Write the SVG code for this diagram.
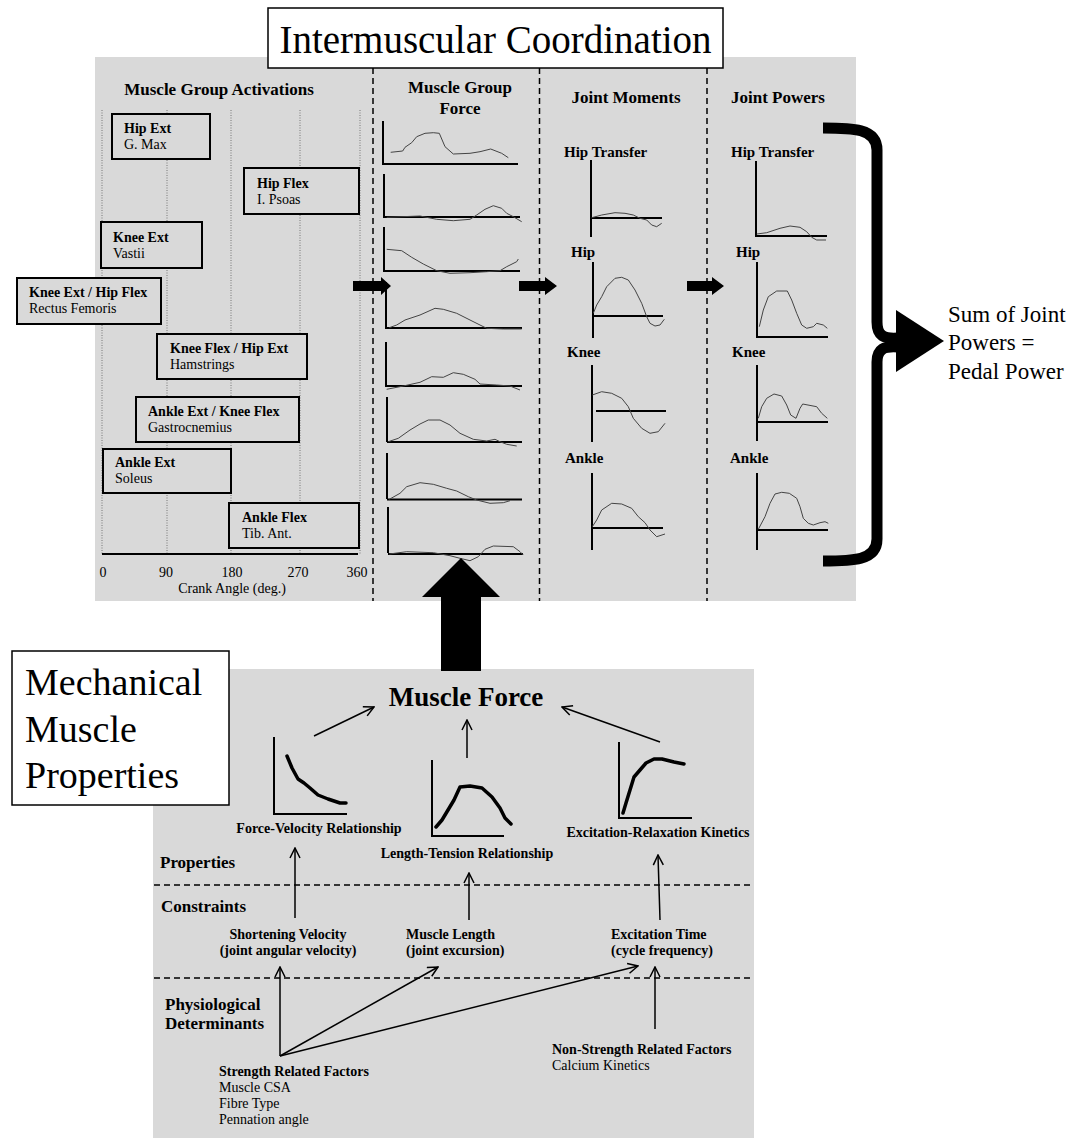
<svg xmlns="http://www.w3.org/2000/svg" width="1075" height="1140" viewBox="0 0 1075 1140">
<defs>
<style>
text{font-family:"Liberation Serif","Times New Roman",serif;fill:#000}
.b{font-weight:bold}
.h{font-size:17px;font-weight:bold}
.bx{font-size:14px}
.lab{font-size:15px;font-weight:bold}
.sm{font-size:14px}
.panel{fill:#d9d9d9}
.abox{fill:#d9d9d9;stroke:#000;stroke-width:2}
.grid{stroke:#777;stroke-width:1;stroke-dasharray:1 1.5;fill:none}
.sep{stroke:#000;stroke-width:1.5;stroke-dasharray:6 4;fill:none}
.ax{stroke:#000;stroke-width:2;fill:none}
.cv{stroke:#444;stroke-width:1;fill:none}
.tk{stroke:#000;stroke-width:3.5;fill:none;stroke-linejoin:round;stroke-linecap:round}
.ar{stroke:#000;stroke-width:1.5;fill:none;marker-end:url(#v)}
.big{fill:#000}
</style>
<marker id="v" viewBox="0 0 12 12" refX="11" refY="6" markerWidth="12" markerHeight="12" markerUnits="userSpaceOnUse" orient="auto">
<path d="M1,1 L11,6 L1,11" fill="none" stroke="#000" stroke-width="1.5"/>
</marker>
</defs>

<!-- panels -->
<rect class="panel" x="95" y="57" width="761" height="544"/>
<rect class="panel" x="153" y="669" width="601" height="469"/>

<g id="title">
<rect x="268" y="8" width="455" height="60" fill="#fff" stroke="#000" stroke-width="1.5"/>
<text x="495.5" y="53" font-size="39" text-anchor="middle">Intermuscular Coordination</text>
</g>

<!-- column separators -->
<g id="separators">
<line class="sep" x1="373" y1="68" x2="373" y2="601"/>
<line class="sep" x1="539.5" y1="68" x2="539.5" y2="601"/>
<line class="sep" x1="707" y1="68" x2="707" y2="601"/>
</g>

<!-- column headers -->
<g id="headers">
<text class="h" x="219" y="95" text-anchor="middle">Muscle Group Activations</text>
<text class="h" x="460" y="93" text-anchor="middle">Muscle Group</text>
<text class="h" x="460" y="114" text-anchor="middle">Force</text>
<text class="h" x="626" y="103" text-anchor="middle">Joint Moments</text>
<text class="h" x="778" y="103" text-anchor="middle">Joint Powers</text>
</g>

<!-- activation chart -->
<g id="activation-axis">
<line class="grid" x1="102" y1="110" x2="102" y2="554"/>
<line class="grid" x1="167" y1="110" x2="167" y2="554"/>
<line class="grid" x1="231" y1="110" x2="231" y2="554"/>
<line class="grid" x1="300" y1="110" x2="300" y2="554"/>
<line class="grid" x1="360" y1="110" x2="360" y2="554"/>
<line class="ax" x1="102" y1="554" x2="358" y2="554"/>
<text class="sm" x="103" y="577" text-anchor="middle">0</text>
<text class="sm" x="166" y="577" text-anchor="middle">90</text>
<text class="sm" x="232" y="577" text-anchor="middle">180</text>
<text class="sm" x="298" y="577" text-anchor="middle">270</text>
<text class="sm" x="357" y="577" text-anchor="middle">360</text>
<text class="sm" x="232" y="593" text-anchor="middle">Crank Angle (deg.)</text>
</g>

<g id="act-hipext"><rect class="abox" x="112" y="114" width="98" height="45"/>
<text class="bx b" x="124" y="133">Hip Ext</text><text class="bx" x="124" y="149">G. Max</text></g>
<g id="act-hipflex"><rect class="abox" x="244" y="168" width="115" height="46"/>
<text class="bx b" x="257" y="188">Hip Flex</text><text class="bx" x="257" y="204">I. Psoas</text></g>
<g id="act-kneeext"><rect class="abox" x="101" y="222" width="101" height="46"/>
<text class="bx b" x="113" y="242">Knee  Ext</text><text class="bx" x="113" y="258">Vastii</text></g>
<g id="act-rf"><rect class="abox" x="17" y="278" width="144" height="46"/>
<text class="bx b" x="29" y="297">Knee  Ext / Hip Flex</text><text class="bx" x="29" y="313">Rectus Femoris</text></g>
<g id="act-ham"><rect class="abox" x="157" y="334" width="150" height="45"/>
<text class="bx b" x="170" y="353">Knee  Flex / Hip Ext</text><text class="bx" x="170" y="369">Hamstrings</text></g>
<g id="act-gas"><rect class="abox" x="136" y="397" width="163" height="45"/>
<text class="bx b" x="148" y="416">Ankle Ext / Knee Flex</text><text class="bx" x="148" y="432">Gastrocnemius</text></g>
<g id="act-sol"><rect class="abox" x="103" y="449" width="128" height="44"/>
<text class="bx b" x="115" y="467">Ankle Ext</text><text class="bx" x="115" y="483">Soleus</text></g>
<g id="act-ta"><rect class="abox" x="229" y="503" width="130" height="45"/>
<text class="bx b" x="242" y="522">Ankle Flex</text><text class="bx" x="242" y="538">Tib.  Ant.</text></g>

<!-- muscle group force charts -->
<g id="force-charts">
<path class="ax" d="M383,121 V165 M383,164 H518"/>
<polyline class="cv" points="390.7,152.3 402.7,151 405,147.3 411.7,142.7 416.7,136.7 425,133.3 433.3,132.7 439.3,133.3 445,146.7 453.3,154 470,153.3 480,151.7 490.7,149 501.7,153.3 508.3,157.7"/>
<path class="ax" d="M384,174 V218 M384,217 H520"/>
<polyline class="cv" points="386.7,217.3 420,216 436.7,219.3 453.3,220.7 470,219.3 476.7,215 485,209.3 493.3,205.7 501.7,208.3 506.7,213.3 513.3,216.7 521.7,221.7"/>
<path class="ax" d="M384,227 V272 M384,271 H520"/>
<polyline class="cv" points="386.7,249.3 401.7,250.7 411.7,257.3 423.3,264 436.7,270.7 450,273.3 470,272.7 486.7,271.7 500,270.7 506.7,266.7 516.7,261.7 518.3,259"/>
<path class="ax" d="M386,282 V329 M386,328 H522"/>
<polyline class="cv" points="389.3,327.7 396.7,325 405,320 420,315 435,308.3 443.3,309.3 456.7,313.3 470,320 480,325 486.7,328.3 503.3,329 521.7,329"/>
<path class="ax" d="M386,342 V387 M386,386 H522"/>
<polyline class="cv" points="386.7,389.3 403.3,386 420,382.3 431.7,376.7 443.3,377.3 453.3,372.7 463.3,374.3 475,379.3 480,384 496.7,385 510,386 520,390"/>
<path class="ax" d="M387,397 V442 M387,442 H522"/>
<polyline class="cv" points="388.3,441.7 398.3,438.3 410,430 420,424 428.3,420 440,420 450,425 460,433.3 473.3,439.3 486.7,441 495,439.3 500,441.7 506.7,444.3 516.7,446"/>
<path class="ax" d="M387,453 V499 M387,499.5 H522"/>
<polyline class="cv" points="389.3,499.3 400,493.3 406.7,486.7 420,482.7 433.3,484.3 446.7,488.3 456.7,491 468.3,496.7 476.7,500 490,503.3 503.3,502.7 510,500.7"/>
<path class="ax" d="M388,507 V553 M388,554 H523"/>
<polyline class="cv" points="389.3,554 406.7,551.7 433.3,552.7 450,555.7 460,558.3 470,560.7 478.3,556.7 485,549.3 493.3,546 513.3,546.7 520,551.7 523.3,555"/>
</g>

<!-- joint moments -->
<g id="moments-hiptransfer">
<text class="lab" x="564" y="157">Hip Transfer</text>
<path class="ax" d="M591,160 V237 M591,218 H662"/>
<polyline class="cv" points="591.7,217.7 601.7,215 615,212.7 625,213.3 633.3,215 640,218.3 646.7,220 651.7,225 656.7,226.7 661.7,223.3"/>
</g>
<g id="moments-hip">
<text class="lab" x="571" y="257">Hip</text>
<path class="ax" d="M593,262 V338 M593,316 H663"/>
<polyline class="cv" points="593.3,313.3 596.7,305 601.7,296.7 606.7,286.7 615,278.3 621.7,277.3 628.3,280 635,290 641.7,303.3 646.7,316.7 650,323.3 655,326 660,325 664.3,319.3"/>
</g>
<g id="moments-knee">
<text class="lab" x="567" y="357">Knee</text>
<path class="ax" d="M592,365 V442 M596,411 H666"/>
<polyline class="cv" points="592.3,395 601.7,391.7 611.7,393.3 621.7,398.3 628.3,406.7 633.3,418.3 641.7,428.3 650,433.3 658.3,431.7 665,423.3"/>
</g>
<g id="moments-ankle">
<text class="lab" x="565" y="463">Ankle</text>
<path class="ax" d="M592,473 V550 M592,528 H663"/>
<polyline class="cv" points="592.3,526.7 596.7,520 601.7,510 611.7,503.3 621.7,504 631.7,508.3 638.3,516.7 645,522.7 650,530 656.7,536.7 665,534"/>
</g>

<!-- joint powers -->
<g id="powers-hiptransfer">
<text class="lab" x="731" y="157">Hip Transfer</text>
<path class="ax" d="M756,161 V237 M756,236 H827"/>
<polyline class="cv" points="756.7,234 766.7,232.7 780,228.3 790,226 800,227.3 806.7,231.7 811.7,237.3 816.7,240 826,240"/>
</g>
<g id="powers-hip">
<text class="lab" x="736" y="257">Hip</text>
<path class="ax" d="M757,262 V338 M757,337 H828"/>
<polyline class="cv" points="759.3,326.7 763.3,310 768.3,296.7 776.7,291 787.3,291 791.7,300 796.7,313.3 801.7,325 806.7,328.3 813.3,326.7 816.7,323.3 823.3,325 827.3,328.3"/>
</g>
<g id="powers-knee">
<text class="lab" x="732" y="357">Knee</text>
<path class="ax" d="M757,365 V441 M757,422 H828"/>
<polyline class="cv" points="758.3,418.3 761.7,406.7 766.7,398.3 774,394 781.7,396 786.7,405 790.7,415 796,418.3 800,408.3 802.7,404 816.7,406.7 821.7,413.3 827.3,418.3"/>
</g>
<g id="powers-ankle">
<text class="lab" x="730" y="463">Ankle</text>
<path class="ax" d="M757,473 V550 M757,530 H828"/>
<polyline class="cv" points="758.3,529.3 765,516.7 770,503.3 775,494 781.7,492.3 789.3,493.3 796.7,498.3 800,506.7 803.3,518.3 808.3,523.3 813.3,525 820,522.7 825,521.7 828.3,523.3"/>
</g>

<g id="sum-label">
<text x="948" y="322" font-size="23">Sum of Joint</text>
<text x="948" y="350" font-size="23">Powers =</text>
<text x="948" y="379" font-size="23">Pedal Power</text>
</g>

<!-- mechanical muscle properties -->
<g id="mech-title">
<rect x="12" y="651" width="217" height="154" fill="#fff" stroke="#000" stroke-width="1.5"/>
<text x="25" y="695" font-size="38">Mechanical</text>
<text x="25" y="742" font-size="38">Muscle</text>
<text x="25" y="788" font-size="38">Properties</text>
</g>

<g id="muscle-force"><text x="466" y="706" font-size="27" class="b" text-anchor="middle">Muscle Force</text></g>

<g id="fv">
<path class="ax" d="M274,737 V814 H347" stroke-width="1.5"/>
<polyline class="tk" points="287,756 292,768 298,779 304,783 310,788 318,795 328,799 340,803 346,803"/>
<text class="sm b" x="319" y="833" text-anchor="middle">Force-Velocity Relationship</text>
</g>
<g id="lt">
<path class="ax" d="M432,760 V836 H504" stroke-width="1.5"/>
<polyline class="tk" points="436,827 442,820 448,810 454,800 460,787 470,786 482,788 492,797 500,808 505,818 511,824"/>
<text class="sm b" x="467" y="858" text-anchor="middle">Length-Tension Relationship</text>
</g>
<g id="erk">
<path class="ax" d="M619,742 V818 H692" stroke-width="1.5"/>
<polyline class="tk" points="623,813 626,803 630,790 634,777 640,770 646,763 654,759 662,759 674,762 684,764"/>
<text class="sm b" x="658" y="837" text-anchor="middle">Excitation-Relaxation Kinetics</text>
</g>

<g id="levels">
<text x="160" y="868" font-size="17" class="b">Properties</text>
<line class="sep" x1="154" y1="885" x2="754" y2="885"/>
<text x="161" y="912" font-size="17" class="b">Constraints</text>
<line class="sep" x1="154" y1="978" x2="754" y2="978"/>
<text x="165" y="1010" font-size="17" class="b">Physiological</text>
<text x="165" y="1029" font-size="17" class="b">Determinants</text>
</g>

<g id="sv"><text class="sm b" x="288" y="939" text-anchor="middle">Shortening Velocity</text>
<text class="sm b" x="288" y="955" text-anchor="middle">(joint angular velocity)</text></g>
<g id="ml"><text class="sm b" x="406" y="939">Muscle Length</text>
<text class="sm b" x="406" y="955">(joint excursion)</text></g>
<g id="et"><text class="sm b" x="611" y="939">Excitation Time</text>
<text class="sm b" x="611" y="955">(cycle frequency)</text></g>

<g id="srf"><text class="sm b" x="219" y="1076">Strength Related Factors</text>
<text class="sm" x="219" y="1092">Muscle CSA</text>
<text class="sm" x="219" y="1108">Fibre Type</text>
<text class="sm" x="219" y="1124">Pennation angle</text></g>
<g id="nsrf"><text class="sm b" x="552" y="1054">Non-Strength Related Factors</text>
<text class="sm" x="552" y="1070">Calcium Kinetics</text></g>

<!-- connectors -->
<g id="connectors">
<polygon class="big" points="353,281 381,281 381,277 391,286 381,295 381,291 353,291"/>
<polygon class="big" points="519,281 545,281 545,277 557,286 545,295 545,291 519,291"/>
<polygon class="big" points="687,281 712,281 712,277 724,286 712,295 712,291 687,291"/>
<polygon class="big" points="441,671 441,597 422,597 461,558 500,597 481,597 481,671"/>
<path d="M823,128 C852,128 877,128 877,150 L877,322 C877,336 884,339 898,338" fill="none" stroke="#000" stroke-width="11"/>
<path d="M823,561 C852,561 877,561 877,539 L877,362 C877,349 884,346 898,347" fill="none" stroke="#000" stroke-width="11"/>
<polygon class="big" points="896,310 944,341 896,372"/>
<line class="ar" x1="314" y1="736" x2="374" y2="707"/>
<line class="ar" x1="467" y1="758" x2="467" y2="720"/>
<line class="ar" x1="660" y1="742" x2="562" y2="707"/>
<line class="ar" x1="295" y1="918" x2="295" y2="848"/>
<line class="ar" x1="469" y1="920" x2="469" y2="873"/>
<line class="ar" x1="660" y1="920" x2="658" y2="855"/>
<line class="ar" x1="280" y1="1056" x2="280" y2="967"/>
<line class="ar" x1="280" y1="1056" x2="438" y2="967"/>
<line class="ar" x1="280" y1="1056" x2="638" y2="966"/>
<line class="ar" x1="655" y1="1029" x2="655" y2="967"/>
</g>
</svg>
